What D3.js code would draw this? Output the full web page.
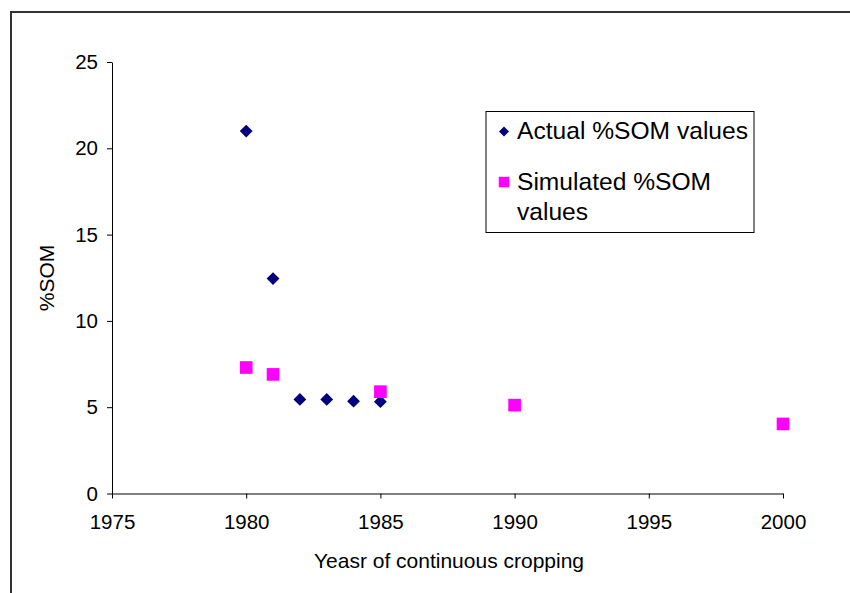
<!DOCTYPE html>
<html><head><meta charset="utf-8">
<script src="https://cdn.jsdelivr.net/npm/d3@7"></script>
<style>body{margin:0;background:#fff}svg{display:block}text{font-family:Arial,"Liberation Sans",sans-serif;fill:#000}</style>
</head><body><svg id="c" width="850" height="593"></svg>
<script>
const actualYears = [1980, 1981, 1982, 1983, 1984, 1985];
const actualValues = [21.0, 12.45, 5.45, 5.45, 5.35, 5.32];
const simYears = [1980, 1981, 1985, 1990, 2000];
const simValues = [7.3, 6.9, 5.9, 5.12, 4.03];
const xTicks = [1975, 1980, 1985, 1990, 1995, 2000];
const yTicks = [0, 5, 10, 15, 20, 25];
const legendLabels = [["Actual %SOM values"], ["Simulated %SOM", "values"]];

const svg = d3.select("#c");
// outer frame
svg.append("rect").attr("x", 11).attr("y", 12).attr("width", 860).attr("height", 600)
  .attr("fill", "none").attr("stroke", "#333").attr("stroke-width", 2);

const x = d3.scaleLinear().domain([1975, 2000]).range([112, 783]);
const y = d3.scaleLinear().domain([0, 25]).range([493.5, 62]);

const xAxis = svg.append("g").attr("transform", "translate(0,493.5)")
  .call(d3.axisBottom(x).tickValues(xTicks).tickFormat(d3.format("d")).tickSize(5).tickSizeOuter(0).tickPadding(16));
const yAxis = svg.append("g").attr("transform", "translate(112,0)")
  .call(d3.axisLeft(y).tickValues(yTicks).tickSize(5).tickSizeOuter(0).tickPadding(9));
[xAxis, yAxis].forEach(a => {
  a.selectAll("path,line").attr("stroke", "#000").attr("stroke-width", 1);
  a.selectAll("text").style("font-size", "20.5px").style("font-family", "Arial, 'Liberation Sans', sans-serif");
});

svg.append("text").attr("x", 449).attr("y", 568).attr("text-anchor", "middle")
  .style("font-size", "21px").text("Yeasr of continuous cropping");
svg.append("text").attr("transform", "translate(54,278) rotate(-90)").attr("text-anchor", "middle")
  .style("font-size", "21px").text("%SOM");

const diamond = d3.symbol().type(d3.symbolSquare).size(82);
const square = d3.symbol().type(d3.symbolSquare).size(160);

svg.append("g").selectAll("path").data(actualYears).join("path")
  .attr("d", diamond)
  .attr("transform", (d, i) => `translate(${x(d)},${y(actualValues[i])}) rotate(45)`)
  .attr("fill", "#000080");
svg.append("g").selectAll("path").data(simYears).join("path")
  .attr("d", square)
  .attr("transform", (d, i) => `translate(${x(d)},${y(simValues[i])})`)
  .attr("fill", "#ff00ff");

// legend
const lg = svg.append("g");
lg.append("rect").attr("x", 486).attr("y", 111.5).attr("width", 268).attr("height", 121)
  .attr("fill", "#fff").attr("stroke", "#000").attr("stroke-width", 1);
lg.append("path").attr("d", d3.symbol().type(d3.symbolSquare).size(50))
  .attr("transform", "translate(504,131.5) rotate(45)").attr("fill", "#000080");
lg.append("path").attr("d", d3.symbol().type(d3.symbolSquare).size(110))
  .attr("transform", "translate(504,182)").attr("fill", "#ff00ff");
const ly = [139, 190];
legendLabels.forEach((lines, i) => {
  lines.forEach((t, j) => {
    lg.append("text").attr("x", 517).attr("y", ly[i] + j * 30).style("font-size", "24.6px").text(t);
  });
});
</script></body></html>
